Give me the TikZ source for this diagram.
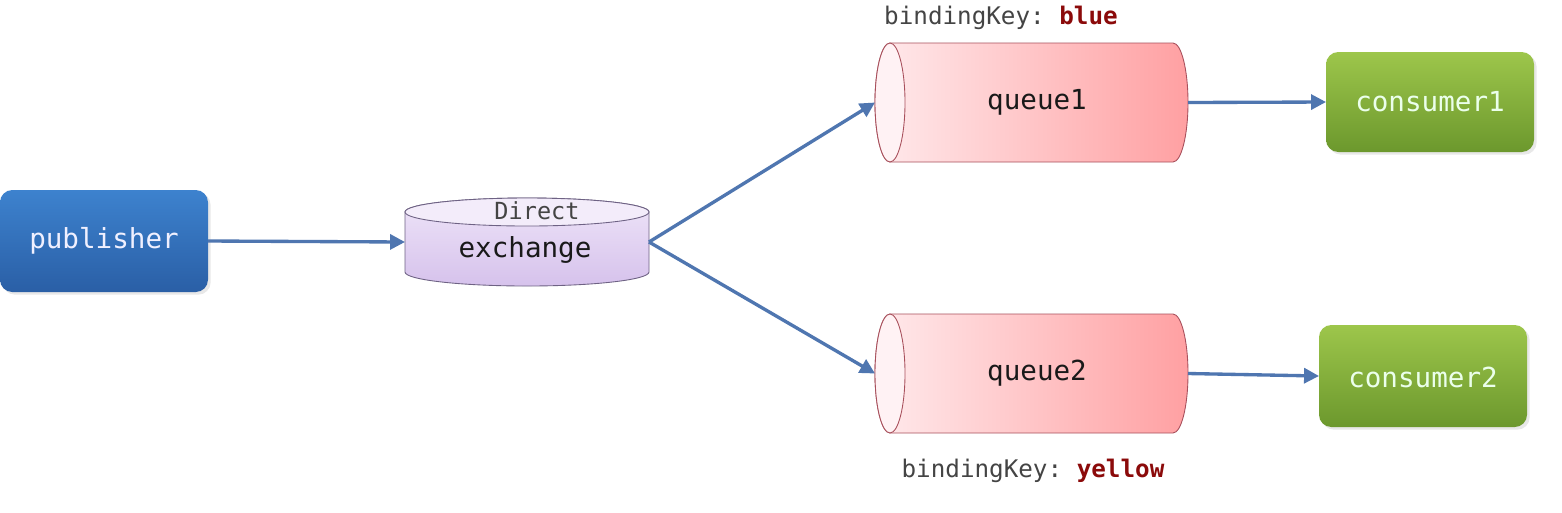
\documentclass[tikz,border=0pt]{standalone}
\usepackage{fontspec}
\setmonofont{DejaVu Sans Mono}
\usetikzlibrary{arrows.meta,shadows}
\definecolor{arrowc}{HTML}{4F76B0}
\definecolor{pubtop}{HTML}{3D82CE}
\definecolor{pubbot}{HTML}{2A5FA6}
\definecolor{contop}{HTML}{9DC64B}
\definecolor{conbot}{HTML}{6C982D}
\definecolor{qleft}{HTML}{FFEAEC}
\definecolor{qright}{HTML}{FFA0A2}
\definecolor{qcap}{HTML}{FFF2F4}
\definecolor{qborder}{HTML}{A8505C}
\definecolor{extop}{HTML}{EEE4F8}
\definecolor{exbot}{HTML}{D6C2EC}
\definecolor{exborder}{HTML}{6E6284}
\definecolor{keyred}{HTML}{8B0A0A}
\definecolor{keygray}{HTML}{444444}
\tikzset{
  hold/.style={draw=none,fill=none,inner sep=0pt,outer sep=0pt,minimum width=#1},
  boxtext/.style={font=\ttfamily\fontsize{15.7pt}{18pt}\selectfont},
  keytext/.style={font=\ttfamily\fontsize{13.8pt}{16pt}\selectfont,text=keygray},
  arr/.style={draw=arrowc,line width=1.9pt,-{Triangle[length=8.5pt,width=8.5pt]}},
  softshadow/.style={drop shadow={opacity=0.18,shadow xshift=1.5pt,shadow yshift=-1.5pt}},
}
\begin{document}
\begin{tikzpicture}[x=0.02cm,y=-0.02cm]
\useasboundingbox (0,0) rectangle (1562,512);
\fill[white] (0,0) rectangle (1562,512);

% publisher
\node[hold=208*0.02cm,minimum height=102*0.02cm] (pub) at (104,241) {};
\shade[top color=pubtop,bottom color=pubbot,rounded corners=7pt,softshadow] (0,190) rectangle (208,292);
\node[boxtext,text=white!94!blue] (pubt) at (104,241) {publisher};

% exchange cylinder
\node[hold=244*0.02cm,minimum height=88*0.02cm] (ex) at (527,242) {};
\shade[top color=extop,bottom color=exbot,draw=exborder,line width=0.5pt]
  (405,212) -- (405,272) arc[start angle=180,end angle=0,x radius=122,y radius=14]
  -- (649,212) arc[start angle=0,end angle=-180,x radius=122,y radius=14] -- cycle;
\fill[extop!70!white,draw=exborder,line width=0.5pt] (527,212) ellipse [x radius=122,y radius=14];
\node[font=\ttfamily\fontsize{13.4pt}{16pt}\selectfont,text=keygray] (dir) at (537,211) {Direct};
\node[boxtext,text=black!90] (ext) at (525,250) {exchange};

% queue1
\node[hold=313*0.02cm,minimum height=119*0.02cm] (q1) at (1031.5,102.5) {};
\shade[left color=qleft,right color=qright,draw=qborder,line width=0.5pt]
  (890,43) -- (1173,43) arc[start angle=-90,end angle=90,x radius=15,y radius=59.5]
  -- (890,162) arc[start angle=90,end angle=270,x radius=15,y radius=59.5] -- cycle;
\fill[qcap,draw=qborder,line width=0.5pt] (890,102.5) ellipse [x radius=15,y radius=59.5];
\node[boxtext,text=black!90] (q1t) at (1037,102) {queue1};

% queue2
\node[hold=313*0.02cm,minimum height=119*0.02cm] (q2) at (1031.5,373.5) {};
\shade[left color=qleft,right color=qright,draw=qborder,line width=0.5pt]
  (890,314) -- (1173,314) arc[start angle=-90,end angle=90,x radius=15,y radius=59.5]
  -- (890,433) arc[start angle=90,end angle=270,x radius=15,y radius=59.5] -- cycle;
\fill[qcap,draw=qborder,line width=0.5pt] (890,373.5) ellipse [x radius=15,y radius=59.5];
\node[boxtext,text=black!90] (q2t) at (1037,373) {queue2};

% consumers
\node[hold=208*0.02cm,minimum height=100*0.02cm] (c1) at (1430,102) {};
\shade[top color=contop,bottom color=conbot,rounded corners=7pt,softshadow] (1326,52) rectangle (1534,152);
\node[boxtext,text=white!92!green] (c1t) at (1430,102) {consumer1};

\node[hold=208*0.02cm,minimum height=102*0.02cm] (c2) at (1423,376) {};
\shade[top color=contop,bottom color=conbot,rounded corners=7pt,softshadow] (1319,325) rectangle (1527,427);
\node[boxtext,text=white!92!green] (c2t) at (1423,377) {consumer2};

% binding keys
\node[keytext] (k1) at (1001,18) {bindingKey: \textcolor{keyred}{\textbf{blue}}};
\node[keytext] (k2) at (1033,471) {bindingKey: \textcolor{keyred}{\textbf{yellow}}};

% connectors
\draw[arr] (pub.east) -- (ex.west);
\draw[arr] (ex.east) -- (q1.west);
\draw[arr] (ex.east) -- (q2.west);
\draw[arr] (q1.east) -- (c1.west);
\draw[arr] (q2.east) -- (c2.west);
\end{tikzpicture}
\end{document}
